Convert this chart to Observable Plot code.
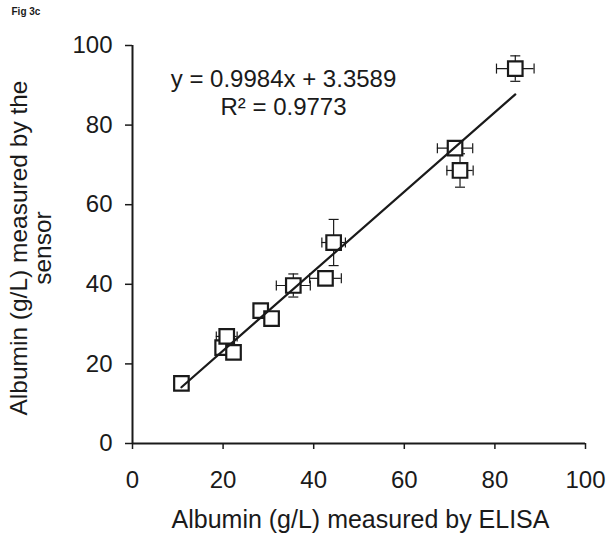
<!DOCTYPE html>
<html>
<head>
<meta charset="utf-8">
<script src="https://cdn.jsdelivr.net/npm/d3@7"></script>
<script src="https://cdn.jsdelivr.net/npm/@observablehq/plot@0.6"></script>
<style>
  html, body { margin: 0; padding: 0; background: #fff; }
  #chart svg { display: block; }
</style>
</head>
<body>
<div id="chart"></div>
<script>
// ELISA (x) vs sensor (y) albumin, g/L
const elisa  = [10.8, 19.9, 20.8, 22.3, 28.3, 30.7, 35.5, 42.6, 44.4, 71.2, 72.3, 84.5];
const sensor = [15.1, 24.1, 26.9, 22.9, 33.4, 31.4, 39.7, 41.5, 50.5, 74.2, 68.6, 94.2];
const elisaErr  = [0, 0, 2.3, 0, 1.0, 0, 3.75, 3.5, 2.6, 3.9, 2.9, 4.15];
const sensorErr = [0, 0, 1.0, 0, 0.8, 0, 2.9, 0, 5.8, 1.0, 4.2, 3.2];
const slope = 0.9984;
const intercept = 3.3589;
const xTicks = [0, 20, 40, 60, 80, 100];
const yTicks = [0, 20, 40, 60, 80, 100];
const equationText = "y = 0.9984x + 3.3589";
const r2Text = "R\u00b2 = 0.9773";
const xLabel = "Albumin (g/L) measured by ELISA";
const yLabel = "Albumin (g/L) measured by the\nsensor";
const figLabel = "Fig 3c";

const data = elisa.map((x, i) => ({x, y: sensor[i], ex: elisaErr[i], ey: sensorErr[i]}));
const fitLine = d3.extent(elisa).map(x => ({x, y: slope * x + intercept}));

const capV = {draw(ctx, size) { const h = Math.sqrt(size / Math.PI); ctx.moveTo(0, -h); ctx.lineTo(0, h); }};
const capH = {draw(ctx, size) { const h = Math.sqrt(size / Math.PI); ctx.moveTo(-h, 0); ctx.lineTo(h, 0); }};

const ink = "#1a1a1a";
const font = "'Liberation Sans', Arial, sans-serif";

const chart = Plot.plot({
  width: 612,
  height: 538,
  marginLeft: 132,
  marginRight: 27,
  marginTop: 45,
  marginBottom: 95,
  style: {fontFamily: font, color: ink, background: "#fff", overflow: "visible"},
  x: {domain: [0, 100], ticks: xTicks},
  y: {domain: [0, 100], ticks: yTicks},
  marks: [
    Plot.axisX({ticks: xTicks, tickSize: 6, tickPadding: 21, fontSize: 24, label: null, strokeWidth: 1.5, stroke: ink}),
    Plot.axisY({ticks: yTicks, tickSize: 7, tickPadding: 13, fontSize: 24, label: null, strokeWidth: 1.5, stroke: ink}),
    Plot.ruleX([0], {stroke: ink, strokeWidth: 2}),
    Plot.ruleY([0], {stroke: ink, strokeWidth: 2}),
    // horizontal error bars
    Plot.ruleY(data, {filter: d => d.ex > 0, y: "y", x1: d => d.x - d.ex, x2: d => d.x + d.ex, stroke: ink, strokeWidth: 1.2}),
    Plot.dot(data, {filter: d => d.ex > 0, x: d => d.x - d.ex, y: "y", symbol: capV, r: 5, stroke: ink, fill: "none", strokeWidth: 1.2}),
    Plot.dot(data, {filter: d => d.ex > 0, x: d => d.x + d.ex, y: "y", symbol: capV, r: 5, stroke: ink, fill: "none", strokeWidth: 1.2}),
    // vertical error bars
    Plot.ruleX(data, {filter: d => d.ey > 0, x: "x", y1: d => d.y - d.ey, y2: d => d.y + d.ey, stroke: ink, strokeWidth: 1.2}),
    Plot.dot(data, {filter: d => d.ey > 0, x: "x", y: d => d.y - d.ey, symbol: capH, r: 5, stroke: ink, fill: "none", strokeWidth: 1.2}),
    Plot.dot(data, {filter: d => d.ey > 0, x: "x", y: d => d.y + d.ey, symbol: capH, r: 5, stroke: ink, fill: "none", strokeWidth: 1.2}),
    // points
    Plot.dot(data, {x: "x", y: "y", symbol: "square", r: 8.2, fill: "white", stroke: ink, strokeWidth: 2.2}),
    // regression line
    Plot.line(fitLine, {x: "x", y: "y", stroke: ink, strokeWidth: 2.2}),
    // annotations
    Plot.text([equationText], {frameAnchor: "top-left", dx: 151, dy: 33.5, textAnchor: "middle", lineAnchor: "middle", fontSize: 24, fill: ink}),
    Plot.text([r2Text], {frameAnchor: "top-left", dx: 151, dy: 62, textAnchor: "middle", lineAnchor: "middle", fontSize: 24, fill: ink}),
    Plot.text([xLabel], {frameAnchor: "bottom", dx: 1.5, dy: 76, textAnchor: "middle", lineAnchor: "middle", fontSize: 25, fill: ink}),
    Plot.text([yLabel], {frameAnchor: "left", dx: -101, dy: 3.5, rotate: -90, textAnchor: "middle", lineAnchor: "middle", fontSize: 24.5, lineHeight: 0.95, fill: ink}),
    Plot.text([figLabel], {frameAnchor: "top-left", dx: -121, dy: -34, textAnchor: "start", lineAnchor: "middle", fontSize: 10, fontWeight: "bold", fill: ink})
  ]
});
document.getElementById("chart").appendChild(chart);
</script>
</body>
</html>
